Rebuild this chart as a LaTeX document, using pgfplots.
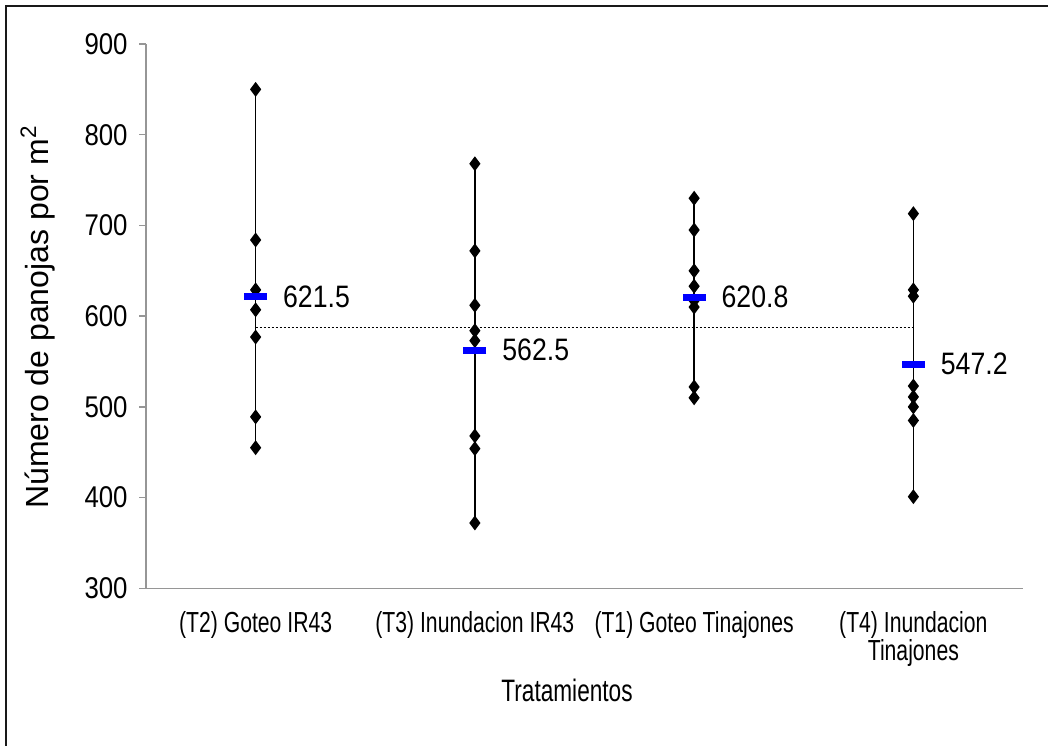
\documentclass[border=0pt]{standalone}
\usepackage{pgfplots}
\pgfplotsset{compat=1.18}
\usepackage{fontspec}
\setmainfont{Liberation Sans}
\newfontfamily\narrowfont{Liberation Sans}[FakeStretch=0.73]
\newfontfamily\numfont{Liberation Sans}[FakeStretch=0.86]
\definecolor{axisgray}{RGB}{150,150,150}
\definecolor{meanblue}{RGB}{0,0,255}

\begin{document}
\begin{tikzpicture}
\path[use as bounding box] (0pt,0pt) rectangle (524pt,-372.5pt);
% outer frame (left and top edges)
\draw[line width=1pt, black!90] (2.75pt,-380pt) -- (2.75pt,-2.75pt) -- (530pt,-2.75pt);
\begin{axis}[
  at={(73pt,-294.15pt)}, anchor=south west,
  scale only axis, width=438.5pt, height=272.15pt,
  xmin=-0.5, xmax=3.5, ymin=300, ymax=900,
  axis x line*=bottom, axis y line*=left,
  axis line style={axisgray, line width=0.7pt, -},
  ytick={300,400,...,900},
  xtick={0,1,2,3},
  xticklabels={{(T2) Goteo IR43},{(T3) Inundacion IR43},{(T1) Goteo Tinajones},{(T4) Inundacion\\Tinajones}},
  tick align=outside,
  major tick length=3.5pt,
  ytick style={axisgray, line width=0.7pt},
  xtick style={draw=none},
  /pgf/number format/assume math mode=true,
  yticklabel style={font=\numfont\fontsize{15}{17}\selectfont, inner sep=0pt, xshift=-5.5pt},
  xticklabel style={font=\narrowfont\fontsize{14.5}{14}\selectfont, align=center, inner sep=0pt, yshift=-8pt},
  clip=false,
]
% overall mean
\addplot[black, line width=0.45pt, dash pattern=on 1.2pt off 0.8pt] coordinates {(0,588) (3,588)};
% individual observations per treatment
\addplot[black, line width=0.65pt, mark=diamond*, mark size=3.2pt] coordinates {(0,455)(0,489)(0,577)(0,607)(0,629)(0,684)(0,850)};
\addplot[black, line width=0.65pt, mark=diamond*, mark size=3.2pt] coordinates {(1,372)(1,454)(1,468)(1,573)(1,584)(1,612)(1,672)(1,768)};
\addplot[black, line width=0.65pt, mark=diamond*, mark size=3.2pt] coordinates {(2,510)(2,522)(2,610)(2,617)(2,633)(2,650)(2,695)(2,730)};
\addplot[black, line width=0.65pt, mark=diamond*, mark size=3.2pt] coordinates {(3,401)(3,485)(3,500)(3,511)(3,523)(3,622)(3,629)(3,713)};
% treatment means
\addplot[meanblue, only marks, mark=-, mark size=5.75pt, mark options={line width=3.5pt},
  point meta=explicit symbolic, nodes near coords,
  nodes near coords style={anchor=west, xshift=12pt, inner sep=0pt, black, font=\numfont\fontsize{15.5}{17}\selectfont}]
  coordinates {(0,621.5)[621.5] (1,562.5)[562.5] (2,620.8)[620.8] (3,547.2)[547.2]};
\end{axis}
\node[rotate=90, font=\fontsize{16}{18}\selectfont] at (19pt,-158.5pt) {Número de panojas por m\textsuperscript{2}};
\node[font=\narrowfont\fontsize{15.5}{17}\selectfont] at (283.5pt,-345pt) {Tratamientos};
\end{tikzpicture}
\end{document}
